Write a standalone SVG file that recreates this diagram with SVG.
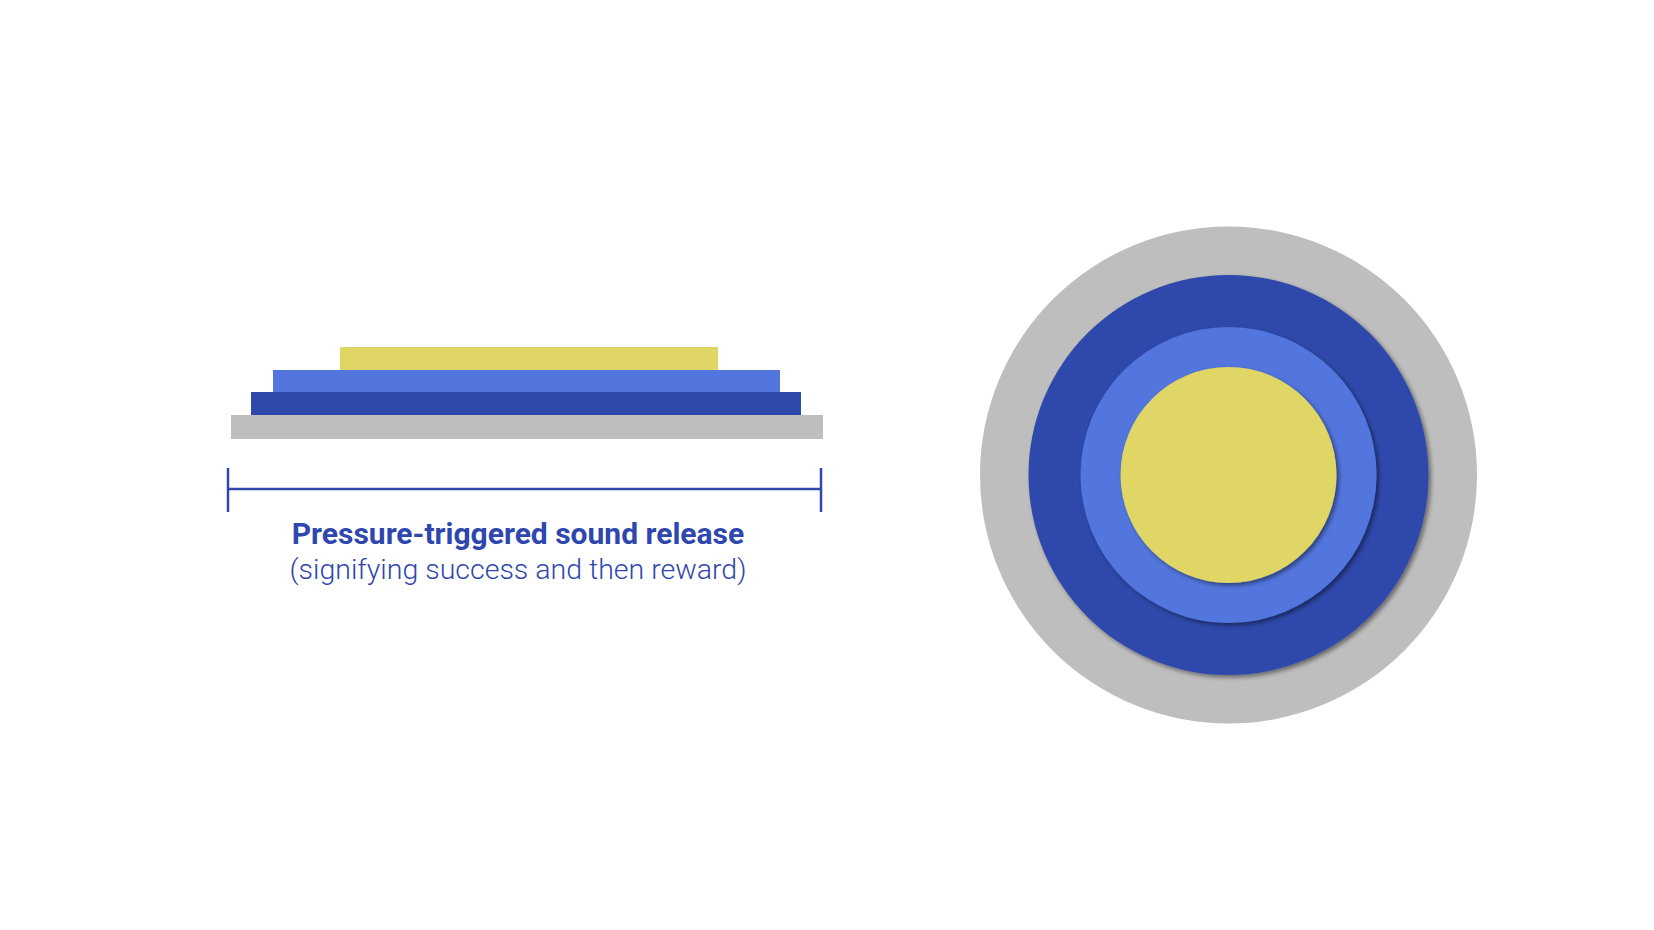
<svg xmlns="http://www.w3.org/2000/svg" width="1654" height="930" viewBox="0 0 1654 930">
  <style>
    .gray { fill: #bebebe; }
    .dark { fill: #2e49ab; }
    .light { fill: #5276de; }
    .yellow { fill: #e0d666; }
    .measure { stroke: #2e49ab; stroke-width: 2.5; fill: none; }
    .title { font-family: Roboto, "Liberation Sans", sans-serif; font-weight: 700; font-size: 30px; fill: #2e47ae; }
    .sub { font-family: Roboto, "Liberation Sans", sans-serif; font-weight: 300; font-size: 28.5px; fill: #2e47ae; }
  </style>
  <defs>
    <filter id="shadow" x="-10%" y="-10%" width="125%" height="125%">
      <feDropShadow dx="2.5" dy="2.5" stdDeviation="2" flood-color="#000" flood-opacity="0.45"/>
    </filter>
  </defs>
  <rect width="1654" height="930" fill="#ffffff"/>

  <g id="side-stack">
    <rect class="gray" x="231" y="415" width="592" height="24"/>
    <rect class="dark" x="251" y="392" width="550" height="23"/>
    <rect class="light" x="273" y="370" width="507" height="22"/>
    <rect class="yellow" x="340" y="347" width="378" height="23"/>
  </g>

  <g id="measure">
    <line class="measure" x1="228" y1="489" x2="821" y2="489"/>
    <line class="measure" x1="228" y1="468" x2="228" y2="512"/>
    <line class="measure" x1="821" y1="468" x2="821" y2="512"/>
  </g>

  <g id="label">
    <text class="title" x="518" y="544" text-anchor="middle">Pressure-triggered sound release</text>
    <text class="sub" x="518" y="579" text-anchor="middle">(signifying success and then reward)</text>
  </g>

  <g id="top-view">
    <circle class="gray" cx="1228.5" cy="475" r="248.5"/>
    <circle class="dark" cx="1228.5" cy="475" r="200" filter="url(#shadow)"/>
    <circle class="light" cx="1228.5" cy="475" r="148" filter="url(#shadow)"/>
    <circle class="yellow" cx="1228.5" cy="475" r="108" filter="url(#shadow)"/>
  </g>
</svg>
